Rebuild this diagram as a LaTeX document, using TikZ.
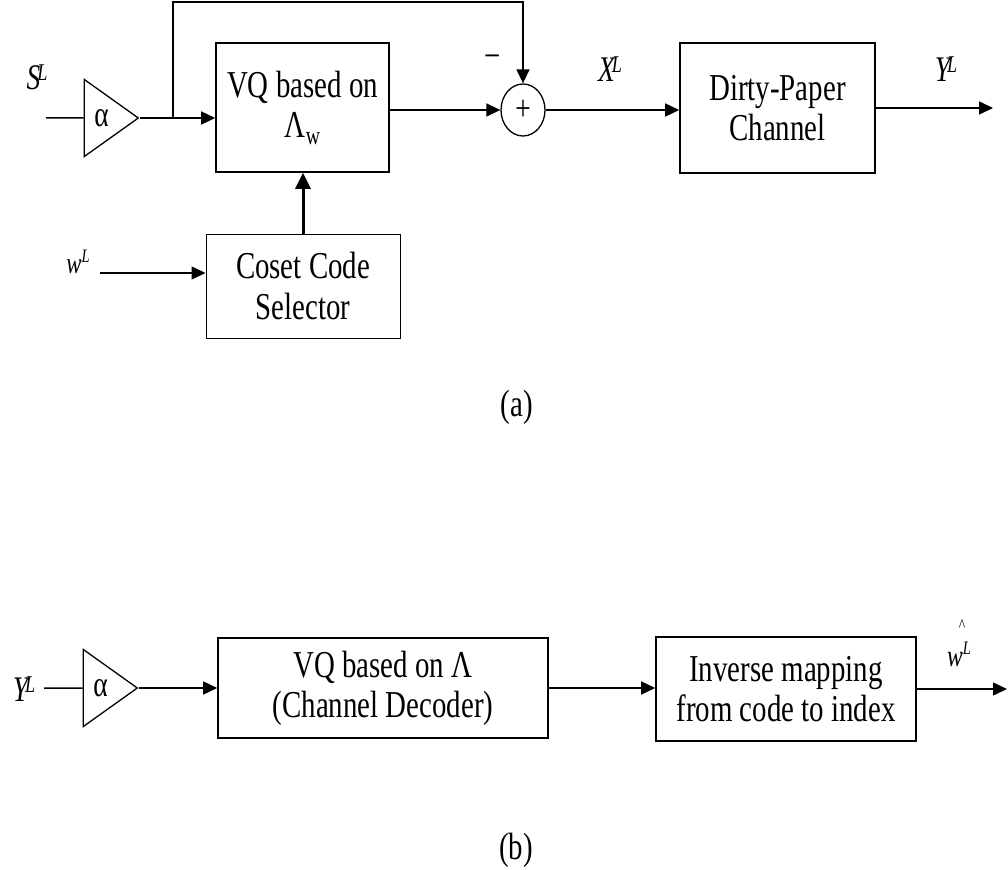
\documentclass[tikz,border=0pt]{standalone}
\usepackage{fontspec}
\setmainfont{Liberation Serif}[FakeStretch=0.76]
\usetikzlibrary{arrows.meta,shapes.geometric}
\begin{document}
\begin{tikzpicture}[x=1pt,y=-1pt,
  blk/.style={draw, line width=1.6pt, inner sep=0pt, align=center, font=\fontsize{38}{40}\selectfont},
  amp/.style={draw, line width=1.3pt, isosceles triangle, isosceles triangle stretches,
    minimum width=77pt, minimum height=54pt, inner sep=0pt, font=\fontsize{36}{36}\selectfont},
  wire/.style={line width=1.5pt},
  arr/.style={wire, -{Triangle[length=14pt,width=13pt]}},
  lbl/.style={inner sep=0pt, font=\fontsize{36}{36}\selectfont\itshape},
  captxt/.style={inner sep=0pt, font=\fontsize{38}{38}\selectfont}]
\useasboundingbox (0,0) rectangle (1008,869);
% ---------- (a) ----------
\node[lbl] (S) at (37,77) {S\kern-3pt\raisebox{9pt}{\fontsize{24}{24}\selectfont L}};
\coordinate (sin) at (46,118);
\node[amp, anchor=apex] (a1) at (140,118) {α};
\node[blk, minimum width=173pt, minimum height=129pt] (vq) at (302.5,107.5)
  {VQ based on\\ Λ\raisebox{-7pt}{\fontsize{26}{26}\selectfont w}};
\node[draw, ellipse, line width=1.3pt, minimum width=44pt, minimum height=52pt, inner sep=0pt,
  font=\fontsize{36}{36}\selectfont] (sum) at (523,110) {+};
\node[blk, minimum width=195pt, minimum height=130pt] (dp) at (777.5,108) {Dirty-Paper\\Channel};
\node[blk, line width=1pt, minimum width=194pt, minimum height=104pt] (cs) at (303,286) {Coset Code\\Selector};
\node[captxt] (minus) at (493,62) {−};
\node[lbl] (X) at (610,69) {X\kern-3pt\raisebox{9pt}{\fontsize{24}{24}\selectfont L}};
\node[lbl] (Y) at (946,69) {Y\kern-3pt\raisebox{9pt}{\fontsize{24}{24}\selectfont L}};
\node[lbl, font=\fontsize{30}{30}\selectfont\itshape] (w) at (78,262) {w\raisebox{11pt}{\fontsize{19}{19}\selectfont L}};
\coordinate (win) at (100,273);
\coordinate (br) at (173,118);
\coordinate (topL) at (173,2);
\coordinate (topR) at (523,2);
\coordinate (yout) at (993,108);
\draw[wire] (sin) -- (a1);
\draw[arr] (a1.apex) -- (a1.apex -| vq.west);
\draw[arr] (br) -- (topL) -- (topR) -- (sum);
\draw[arr] (vq.east |- sum.west) -- (sum.west);
\draw[arr] (sum.east) -- (sum.east -| dp.west);
\draw[arr] (dp.east) -- (yout);
\draw[line width=3pt, -{Triangle[length=16pt,width=15pt]}] (cs.north) -- (cs.north |- vq.south);
\draw[arr] (win) -- (win -| cs.west);
\node[captxt] (capa) at (517,407) {(a)};
% ---------- (b) ----------
\node[lbl] (Yb) at (24,689) {Y\kern-3pt\raisebox{9pt}{\fontsize{24}{24}\selectfont L}};
\coordinate (yin) at (44,688);
\node[amp, anchor=apex] (a2) at (139,688) {α};
\node[blk, minimum width=330pt, minimum height=100pt] (vq2) at (383,688) {VQ based on Λ\\(Channel Decoder)};
\node[blk, minimum width=260pt, minimum height=104pt] (inv) at (786,689) {Inverse mapping\\from code to index};
\node[lbl, font=\fontsize{31}{31}\selectfont\itshape] (what) at (959,654)
  {w\raisebox{12pt}{\fontsize{19}{19}\selectfont L}};
\node[inner sep=0pt, font=\fontsize{18}{18}\selectfont] (hat) at (962,626) {\^{}};
\coordinate (wout) at (1007,686);
\draw[wire] (yin) -- (a2);
\draw[arr] (a2.apex) -- (a2.apex -| vq2.west);
\draw[arr] (vq2.east) -- (vq2.east -| inv.west);
\draw[arr] (inv.east) -- (inv.east -| wout);
\node[captxt] (capb) at (516,850) {(b)};
\end{tikzpicture}
\end{document}
